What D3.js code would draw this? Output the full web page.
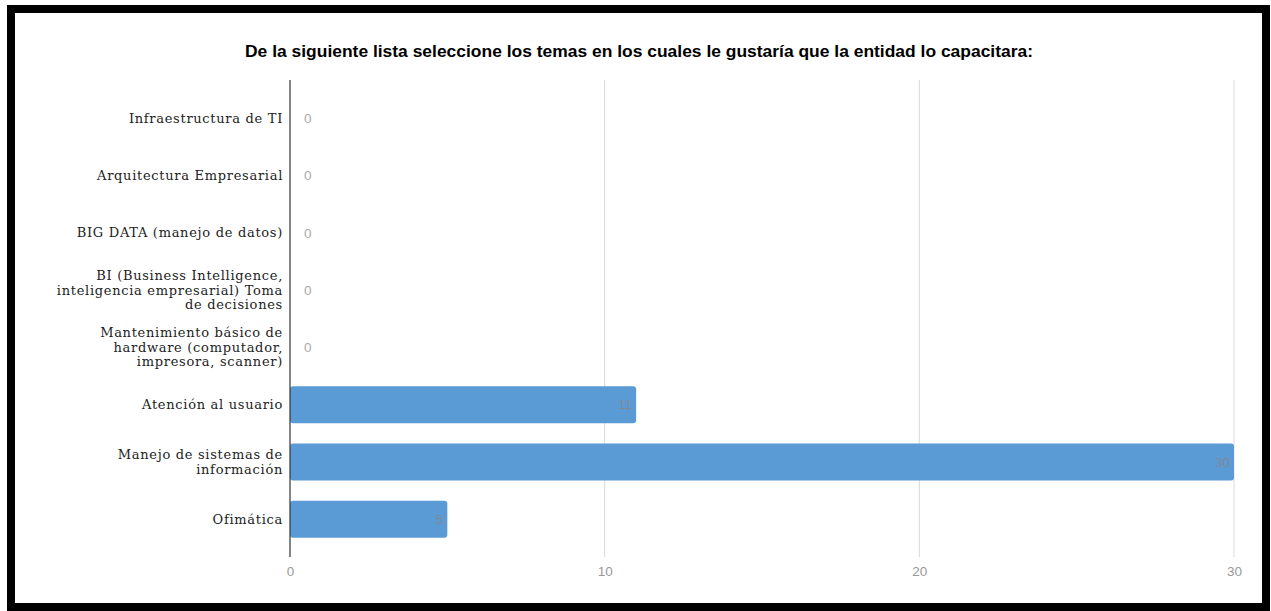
<!DOCTYPE html>
<html>
<head>
<meta charset="utf-8">
<script src="https://cdn.jsdelivr.net/npm/d3@7"></script>
<style>
  html, body { margin: 0; padding: 0; background: #fff; }
  svg { display: block; }
</style>
</head>
<body>
<svg id="chart" width="1271" height="611"></svg>
<script>
// Training topics and number of respondents choosing each one
const categories = [
  ["Infraestructura de TI"],
  ["Arquitectura Empresarial"],
  ["BIG DATA (manejo de datos)"],
  ["BI (Business Intelligence,", "inteligencia empresarial) Toma", "de decisiones"],
  ["Mantenimiento básico de", "hardware (computador,", "impresora, scanner)"],
  ["Atención al usuario"],
  ["Manejo de sistemas de", "información"],
  ["Ofimática"]
];
const values = [0, 0, 0, 0, 0, 11, 30, 5];
const xTicks = [0, 10, 20, 30];
const title = "De la siguiente lista seleccione los temas en los cuales le gustaría que la entidad lo capacitara:";

const svg = d3.select("#chart");
const W = 1271, H = 611;

// framed panel
svg.append("rect").attr("x", 0).attr("y", 0).attr("width", W).attr("height", H).attr("fill", "#fff");
svg.append("rect")
  .attr("x", 11).attr("y", 9).attr("width", 1255).attr("height", 598)
  .attr("fill", "#fff").attr("stroke", "#000").attr("stroke-width", 8);

const plot = { left: 290, right: 1234, top: 80, bottom: 557 };

const x = d3.scaleLinear().domain([0, 30]).range([plot.left, plot.right]);
const y = d3.scaleBand()
  .domain(d3.range(categories.length))
  .range([89.5, 548])
  .paddingInner(0.355)
  .paddingOuter(0.18);

// title
svg.append("text")
  .attr("x", 639).attr("y", 57)
  .attr("text-anchor", "middle")
  .attr("font-family", "'Liberation Sans', Arial, sans-serif")
  .attr("font-weight", "bold")
  .attr("font-size", 16.5)
  .attr("textLength", 788)
  .attr("lengthAdjust", "spacingAndGlyphs")
  .attr("fill", "#000")
  .text(title);

// vertical gridlines
svg.append("g")
  .selectAll("line")
  .data(xTicks.filter(t => t !== 0))
  .join("line")
  .attr("x1", d => x(d)).attr("x2", d => x(d))
  .attr("y1", plot.top).attr("y2", plot.bottom)
  .attr("stroke", "#d9d9d9").attr("stroke-width", 1);

// x axis tick labels
const xAxis = d3.axisBottom(x).tickValues(xTicks).tickSize(0).tickPadding(8);
const gx = svg.append("g")
  .attr("transform", `translate(0,${plot.bottom + 1})`)
  .call(xAxis);
gx.select(".domain").remove();
gx.selectAll("text")
  .attr("font-family", "'Liberation Sans', Arial, sans-serif")
  .attr("font-size", 13.5)
  .attr("fill", "#999");

// bars
svg.append("g")
  .selectAll("rect")
  .data(values)
  .join("rect")
  .attr("x", x(0))
  .attr("y", (d, i) => y(i))
  .attr("width", d => x(d) - x(0))
  .attr("height", y.bandwidth())
  .attr("rx", 3).attr("ry", 3)
  .attr("fill", "#5b9bd5");

// value labels
svg.append("g")
  .selectAll("text")
  .data(values)
  .join("text")
  .attr("x", d => d === 0 ? x(0) + 14 : x(d) - 4)
  .attr("y", (d, i) => y(i) + y.bandwidth() / 2)
  .attr("dy", "0.35em")
  .attr("text-anchor", d => d === 0 ? "start" : "end")
  .attr("font-family", "'Liberation Sans', Arial, sans-serif")
  .attr("font-size", 13.5)
  .attr("fill", d => d === 0 ? "#aaa" : "#7f8a95")
  .text(d => d);

// category axis line
svg.append("line")
  .attr("x1", x(0)).attr("x2", x(0))
  .attr("y1", plot.top).attr("y2", plot.bottom)
  .attr("stroke", "#333").attr("stroke-width", 1.2);

// category labels (multi-line, right aligned)
const lineH = 14.5;
const catG = svg.append("g")
  .selectAll("text")
  .data(categories)
  .join("text")
  .attr("x", x(0) - 7)
  .attr("y", (d, i) => y(i) + y.bandwidth() / 2)
  .attr("text-anchor", "end")
  .attr("font-family", "'DejaVu Serif', serif")
  .attr("font-size", 13)
  .attr("letter-spacing", 0.7)
  .attr("fill", "#222");
catG.each(function(lines) {
  const t = d3.select(this);
  const n = lines.length;
  lines.forEach((ln, k) => {
    t.append("tspan")
      .attr("x", x(0) - 7)
      .attr("dy", k === 0 ? ((-(n - 1) / 2) * lineH + 4.5) : lineH)
      .text(ln);
  });
});
</script>
</body>
</html>
